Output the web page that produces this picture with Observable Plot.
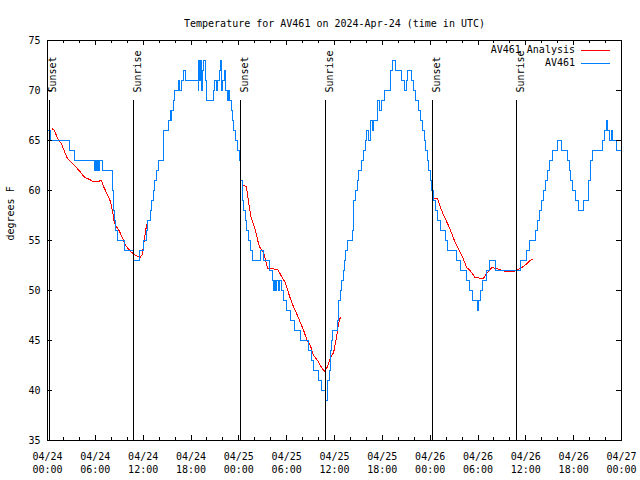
<!DOCTYPE html>
<html><head><meta charset="utf-8">
<script src="https://cdn.jsdelivr.net/npm/d3@7"></script>
<script src="https://cdn.jsdelivr.net/npm/@observablehq/plot@0.6"></script>
<style>
body{margin:0;background:#fff}
svg{font-family:"DejaVu Sans Mono",monospace}
</style>
</head><body><div id="chart"></div>
<script>
const title = "Temperature for AV461 on 2024-Apr-24 (time in UTC)";
const yLabel = "degrees F";
const seriesNames = ["AV461 Analysis", "AV461"];
const seriesColors = ["#ff0000", "#0080ff"];

const xTickHours = [0, 6, 12, 18, 24, 30, 36, 42, 48, 54, 60, 66, 72];
const xTickLabels = ["04/24\n00:00", "04/24\n06:00", "04/24\n12:00", "04/24\n18:00",
  "04/25\n00:00", "04/25\n06:00", "04/25\n12:00", "04/25\n18:00",
  "04/26\n00:00", "04/26\n06:00", "04/26\n12:00", "04/26\n18:00", "04/27\n00:00"];
const yTicks = [35, 40, 45, 50, 55, 60, 65, 70, 75];

const sunEventHours = [0.2, 10.85, 24.25, 34.9, 48.3, 58.85];
const sunEventLabels = ["Sunset", "Sunrise", "Sunset", "Sunrise", "Sunset", "Sunrise"];

// AV461 observations (hours since 04/24 00:00 UTC, degrees F)
const obsHours = [0.16,0.35,2.70,3.42,5.84,5.96,6.09,6.21,6.36,6.51,6.89,8.14,8.21,8.26,8.34,8.43,8.55,8.80,9.68,10.77,
  11.60,12.10,12.40,12.60,12.94,13.10,13.25,13.44,13.62,13.94,14.56,15.19,15.38,15.50,15.56,15.75,15.94,16.38,16.57,16.75,
  17.03,17.32,18.88,18.98,19.11,19.23,19.32,19.45,19.63,19.80,19.95,20.79,21.01,21.20,21.33,21.58,21.70,21.83,22.01,22.20,
  22.39,22.58,22.70,22.83,23.02,23.20,23.39,23.64,23.89,24.08,24.27,24.40,24.52,24.64,24.83,25.02,25.27,25.52,25.75,26.71,
  27.15,27.90,28.21,28.40,28.52,28.65,28.77,28.96,29.09,29.40,29.59,29.96,30.47,31.00,31.78,32.72,33.10,33.35,33.97,34.35,
  34.85,35.16,35.35,35.54,35.66,35.79,36.41,36.54,36.73,36.91,37.10,37.23,37.39,37.57,38.27,38.33,38.44,38.60,38.85,39.07,
  39.36,39.67,39.86,40.07,40.23,40.55,40.75,40.92,41.36,41.61,41.86,42.27,43.04,43.26,43.70,44.46,44.79,45.04,45.21,45.67,
  45.87,46.21,46.51,46.80,47.02,47.23,47.44,47.65,47.85,48.01,48.18,48.37,48.63,48.94,49.31,49.94,50.12,51.31,51.82,52.51,
  52.92,53.34,53.88,54.03,54.26,54.57,55.07,55.44,56.20,59.27,60.08,60.46,61.21,61.46,61.71,61.96,62.18,62.46,62.71,62.96,
  63.34,64.03,64.53,65.24,65.44,65.65,65.86,66.19,66.57,67.28,67.88,68.09,68.34,69.60,69.91,70.10,70.23,70.47,70.72,70.91,
  71.35,72.00];
const obsTemps = [66,65,64,63,62,63,62,63,62,63,62,61,60,59,58,57,56,55,54,53,
  54,55,56,57,58,59,60,61,62,63,66,67,68,67,68,69,70,71,70,71,
  72,71,70,73,71,73,70,72,73,71,69,70,71,70,71,72,73,70,71,72,
  70,69,70,69,68,67,66,65,64,63,61,60,59,58,57,56,55,54,53,54,
  53,52,51,50,51,50,51,50,51,50,49,48,47,46,45,44,43,42,41,40,
  39,41,42,44,45,46,47,49,50,51,52,53,54,55,56,58,59,60,61,62,
  63,64,65,66,65,67,66,67,69,68,69,70,72,73,72,71,70,71,72,71,
  70,69,68,67,66,65,64,63,62,61,60,59,58,57,56,55,54,53,52,51,
  50,49,48,49,50,51,52,53,52,53,54,55,56,57,58,59,60,61,62,63,
  64,65,64,63,62,61,60,59,58,59,61,63,64,65,66,67,66,65,66,65,
  64,64];

// AV461 Analysis (three nightly segments)
const anaSegment = [1,1,1,1,1,1,1,1,1,1,1,1,1,1,1,1,1,1,1,1,1,1,1,1,1,1,1,1,1,
  2,2,2,2,2,2,2,2,2,2,2,2,2,2,2,2,2,2,2,2,2,2,2,2,2,2,2,2,2,2,2,2,
  3,3,3,3,3,3,3,3,3,3,3,3,3,3,3,3,3,3,3,3,3,3,3,3];
const anaHours = [0.58,0.85,1.35,1.75,2.08,2.50,3.01,3.63,4.17,4.67,5.30,5.71,6.30,6.76,7.09,7.51,7.89,8.14,8.34,8.55,
  8.97,9.39,9.80,10.43,11.06,11.62,11.87,12.10,12.43,
  24.54,24.96,25.24,25.54,25.80,26.05,26.30,26.46,26.71,27.12,27.62,27.96,28.90,29.43,29.84,30.25,30.68,31.09,31.51,32.13,
  32.56,32.97,33.38,33.88,34.22,34.72,35.06,35.47,35.89,36.23,36.51,36.73,
  48.44,48.91,49.25,49.59,50.00,50.29,50.71,51.13,51.67,52.09,52.59,53.01,53.63,54.67,55.10,55.72,56.35,57.39,58.43,59.05,
  59.48,60.02,60.52,60.86];
const anaTemps = [66.2,66.0,65.1,64.7,64.0,63.2,62.8,62.3,61.8,61.3,61.1,60.9,60.9,61.0,60.3,59.6,58.9,58.0,57.0,56.5,
  56.0,55.3,54.5,53.9,53.5,53.3,53.6,54.8,56.6,
  60.5,60.4,58.7,57.3,56.7,56.1,55.3,54.7,54.2,53.8,52.2,52.2,52.1,51.3,50.8,49.7,48.7,48.0,47.2,46.0,
  45.0,44.5,43.5,43.0,42.5,41.9,42.3,43.2,43.8,45.2,46.7,47.3,
  59.2,59.2,58.4,57.7,57.0,56.5,55.7,54.8,54.0,53.3,52.3,52.0,51.3,51.2,51.7,52.3,52.2,51.9,51.9,52.1,
  52.3,52.6,53.0,53.1];

const obs = obsHours.map((h, i) => ({h, v: obsTemps[i]}));
const ana = anaHours.map((h, i) => ({h, v: anaTemps[i], seg: anaSegment[i]}));
const sunEvents = sunEventHours.map((h, i) => ({h, label: sunEventLabels[i]}));
const labelOf = new Map(xTickHours.map((h, i) => [h, xTickLabels[i]]));
const xMinor = d3.range(0, 73, 2).filter(h => h % 6 !== 0);

const W = 640, H = 480, ML = 47, MR = 19, MT = 40, MB = 40;
const FW = W - ML - MR, FH = H - MT - MB;

function legend() {
  const g = d3.create("svg:g").attr("font-size", 10).attr("font-family", "DejaVu Sans Mono, monospace");
  seriesNames.forEach((name, i) => {
    const y = MT + 10 + i * 13;
    g.append("text").attr("x", W - MR - 46).attr("y", y).attr("dy", "0.32em")
      .attr("text-anchor", "end").attr("fill", "black").text(name);
    g.append("line").attr("x1", W - MR - 40).attr("x2", W - MR - 11)
      .attr("y1", y + 0.5).attr("y2", y + 0.5)
      .attr("stroke", seriesColors[i]).attr("stroke-width", 1).attr("shape-rendering", "crispEdges");
  });
  return g.node();
}

const chart = Plot.plot({
  width: W, height: H,
  marginLeft: ML, marginRight: MR, marginTop: MT, marginBottom: MB,
  style: {fontFamily: "DejaVu Sans Mono, monospace", fontSize: "10px", background: "white", color: "black", overflow: "visible"},
  x: {domain: [0, 72]},
  y: {domain: [35, 75]},
  marks: [
    Plot.line(ana, {x: "h", y: "v", z: "seg", stroke: seriesColors[0], strokeWidth: 1, shapeRendering: "crispEdges"}),
    Plot.line(obs, {x: "h", y: "v", stroke: seriesColors[1], strokeWidth: 1, curve: "step-after", shapeRendering: "crispEdges"}),
    Plot.ruleX(sunEvents, {x: "h", insetTop: 60, stroke: "black", strokeWidth: 1, shapeRendering: "crispEdges"}),
    Plot.text(sunEvents, {x: "h", text: "label", frameAnchor: "top", dy: 52, rotate: -90, textAnchor: "start", fill: "black", fontSize: 10}),
    Plot.frame({stroke: "black", strokeWidth: 1, shapeRendering: "crispEdges"}),
    Plot.tickX(xTickHours, {x: d => d, insetTop: FH - 5, stroke: "black", shapeRendering: "crispEdges"}),
    Plot.tickX(xTickHours, {x: d => d, insetBottom: FH - 5, stroke: "black", shapeRendering: "crispEdges"}),
    Plot.tickX(xMinor, {x: d => d, insetTop: FH - 3, stroke: "black", shapeRendering: "crispEdges"}),
    Plot.tickX(xMinor, {x: d => d, insetBottom: FH - 3, stroke: "black", shapeRendering: "crispEdges"}),
    Plot.tickY(yTicks, {y: d => d, insetRight: FW - 5, stroke: "black", shapeRendering: "crispEdges"}),
    Plot.tickY(yTicks, {y: d => d, insetLeft: FW - 5, stroke: "black", shapeRendering: "crispEdges"}),
    Plot.axisX(xTickHours, {anchor: "bottom", tickSize: 0, tickPadding: 10, tickFormat: d => labelOf.get(d), lineHeight: 1.3, fontSize: 10, label: null}),
    Plot.axisY(yTicks, {anchor: "left", tickSize: 0, tickPadding: 7, fontSize: 10, label: null}),
    Plot.text([title], {text: d => d, frameAnchor: "top", dy: -21, fill: "black", fontSize: 10}),
    Plot.text([yLabel], {text: d => d, frameAnchor: "left", dx: -37, rotate: -90, fill: "black", fontSize: 10}),
    legend
  ]
});
document.getElementById("chart").appendChild(chart);
</script>
</body></html>
